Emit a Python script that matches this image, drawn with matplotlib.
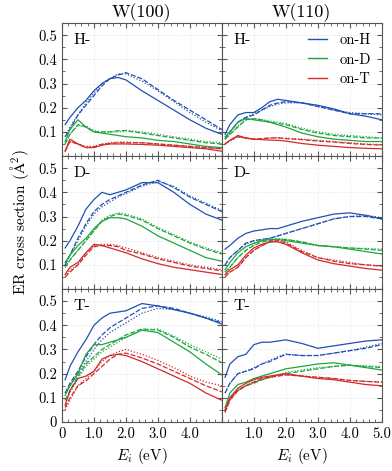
import matplotlib
matplotlib.use("Agg")
import matplotlib.pyplot as plt
from matplotlib.ticker import MultipleLocator

plt.rcParams["font.family"] = ["cmr10", "DejaVu Serif"]
plt.rcParams["mathtext.fontset"] = "cm"
plt.rcParams["axes.formatter.use_mathtext"] = True

# ---------- data -------------------------------------------------------------
energy = [0.1, 0.25, 0.5, 0.75, 1.0, 1.25, 1.5, 1.75, 2.0, 2.5, 3.0, 3.5, 4.0, 4.5, 5.0]

surfaces = ["W(100)", "W(110)"]
projectiles = ["H-", "D-", "T-"]
targets = ["on-H", "on-D", "on-T"]

# W(100), H projectile
w100_h_onH_solid = [0.13, 0.16, 0.20, 0.23, 0.27, 0.30, 0.32, 0.325, 0.315, 0.27, 0.23, 0.19, 0.15, 0.115, 0.09]
w100_h_onH_dash = [0.08, 0.11, 0.17, 0.21, 0.25, 0.29, 0.32, 0.335, 0.345, 0.32, 0.275, 0.23, 0.19, 0.15, 0.11]
w100_h_onH_dot = [0.08, 0.12, 0.17, 0.22, 0.26, 0.30, 0.32, 0.34, 0.34, 0.31, 0.27, 0.225, 0.18, 0.14, 0.105]
w100_h_onD_solid = [0.06, 0.11, 0.15, 0.12, 0.10, 0.095, 0.09, 0.085, 0.08, 0.075, 0.065, 0.06, 0.05, 0.04, 0.035]
w100_h_onD_dash = [0.05, 0.09, 0.13, 0.12, 0.10, 0.10, 0.10, 0.105, 0.105, 0.095, 0.085, 0.075, 0.065, 0.055, 0.05]
w100_h_onD_dot = [0.05, 0.09, 0.125, 0.125, 0.105, 0.10, 0.10, 0.10, 0.105, 0.10, 0.09, 0.08, 0.07, 0.06, 0.055]
w100_h_onT_solid = [0.02, 0.07, 0.05, 0.035, 0.035, 0.045, 0.05, 0.05, 0.05, 0.048, 0.045, 0.04, 0.035, 0.03, 0.02]
w100_h_onT_dash = [0.02, 0.06, 0.05, 0.035, 0.038, 0.048, 0.052, 0.055, 0.055, 0.055, 0.05, 0.045, 0.04, 0.035, 0.03]
w100_h_onT_dot = [0.02, 0.06, 0.05, 0.04, 0.04, 0.05, 0.055, 0.058, 0.058, 0.055, 0.05, 0.045, 0.04, 0.035, 0.03]

# W(110), H projectile
w110_h_onH_solid = [0.09, 0.13, 0.17, 0.18, 0.18, 0.20, 0.225, 0.235, 0.23, 0.22, 0.21, 0.195, 0.175, 0.165, 0.15]
w110_h_onH_dash = [0.07, 0.10, 0.14, 0.16, 0.17, 0.19, 0.21, 0.22, 0.225, 0.22, 0.205, 0.19, 0.175, 0.175, 0.175]
w110_h_onH_dot = [0.07, 0.10, 0.14, 0.16, 0.175, 0.19, 0.205, 0.215, 0.22, 0.22, 0.205, 0.19, 0.18, 0.175, 0.17]
w110_h_onD_solid = [0.08, 0.10, 0.14, 0.155, 0.15, 0.145, 0.14, 0.13, 0.12, 0.095, 0.08, 0.07, 0.065, 0.06, 0.06]
w110_h_onD_dash = [0.07, 0.09, 0.12, 0.15, 0.155, 0.15, 0.14, 0.135, 0.13, 0.11, 0.095, 0.085, 0.08, 0.075, 0.075]
w110_h_onD_dot = [0.07, 0.09, 0.125, 0.15, 0.155, 0.15, 0.145, 0.14, 0.135, 0.115, 0.10, 0.09, 0.085, 0.08, 0.075]
w110_h_onT_solid = [0.05, 0.065, 0.085, 0.075, 0.07, 0.068, 0.066, 0.065, 0.062, 0.052, 0.045, 0.04, 0.035, 0.032, 0.03]
w110_h_onT_dash = [0.05, 0.065, 0.08, 0.075, 0.07, 0.072, 0.075, 0.075, 0.072, 0.068, 0.062, 0.058, 0.052, 0.048, 0.045]
w110_h_onT_dot = [0.05, 0.062, 0.08, 0.072, 0.07, 0.072, 0.074, 0.076, 0.074, 0.07, 0.065, 0.06, 0.055, 0.05, 0.047]

# W(100), D projectile
w100_d_onH_solid = [0.17, 0.20, 0.26, 0.33, 0.37, 0.40, 0.39, 0.40, 0.41, 0.44, 0.44, 0.40, 0.35, 0.31, 0.285]
w100_d_onH_dash = [0.10, 0.14, 0.21, 0.27, 0.32, 0.35, 0.37, 0.385, 0.40, 0.43, 0.45, 0.42, 0.38, 0.35, 0.32]
w100_d_onH_dot = [0.10, 0.14, 0.20, 0.26, 0.31, 0.34, 0.36, 0.38, 0.395, 0.425, 0.445, 0.425, 0.385, 0.355, 0.325]
w100_d_onD_solid = [0.11, 0.14, 0.18, 0.21, 0.25, 0.28, 0.295, 0.295, 0.29, 0.26, 0.22, 0.19, 0.16, 0.13, 0.115]
w100_d_onD_dash = [0.09, 0.12, 0.16, 0.20, 0.24, 0.28, 0.30, 0.31, 0.305, 0.285, 0.25, 0.22, 0.19, 0.165, 0.145]
w100_d_onD_dot = [0.09, 0.12, 0.16, 0.20, 0.245, 0.285, 0.305, 0.315, 0.31, 0.29, 0.255, 0.225, 0.195, 0.17, 0.15]
w100_d_onT_solid = [0.06, 0.09, 0.11, 0.15, 0.185, 0.18, 0.17, 0.16, 0.15, 0.125, 0.105, 0.09, 0.08, 0.07, 0.06]
w100_d_onT_dash = [0.05, 0.07, 0.10, 0.14, 0.175, 0.18, 0.18, 0.175, 0.16, 0.145, 0.125, 0.11, 0.095, 0.085, 0.075]
w100_d_onT_dot = [0.05, 0.08, 0.10, 0.15, 0.18, 0.185, 0.185, 0.18, 0.17, 0.15, 0.13, 0.115, 0.10, 0.09, 0.08]

# W(110), D projectile
w110_d_onH_solid = [0.165, 0.18, 0.21, 0.23, 0.24, 0.245, 0.25, 0.25, 0.26, 0.28, 0.295, 0.31, 0.315, 0.305, 0.29]
w110_d_onH_dash = [0.10, 0.13, 0.16, 0.19, 0.20, 0.205, 0.21, 0.22, 0.23, 0.25, 0.27, 0.29, 0.30, 0.30, 0.29]
w110_d_onH_dot = [0.10, 0.13, 0.16, 0.185, 0.20, 0.205, 0.21, 0.22, 0.23, 0.25, 0.27, 0.29, 0.30, 0.305, 0.295]
w110_d_onD_solid = [0.08, 0.11, 0.15, 0.175, 0.19, 0.20, 0.205, 0.205, 0.20, 0.19, 0.18, 0.175, 0.165, 0.155, 0.145]
w110_d_onD_dash = [0.07, 0.09, 0.13, 0.16, 0.18, 0.195, 0.20, 0.205, 0.205, 0.195, 0.18, 0.175, 0.17, 0.165, 0.16]
w110_d_onD_dot = [0.07, 0.09, 0.13, 0.16, 0.185, 0.20, 0.205, 0.21, 0.205, 0.195, 0.18, 0.175, 0.17, 0.168, 0.165]
w110_d_onT_solid = [0.06, 0.08, 0.10, 0.14, 0.17, 0.185, 0.195, 0.195, 0.185, 0.15, 0.12, 0.105, 0.095, 0.085, 0.078]
w110_d_onT_dash = [0.05, 0.07, 0.09, 0.13, 0.16, 0.18, 0.195, 0.20, 0.19, 0.155, 0.13, 0.115, 0.105, 0.10, 0.095]
w110_d_onT_dot = [0.05, 0.07, 0.09, 0.13, 0.16, 0.18, 0.195, 0.20, 0.195, 0.16, 0.13, 0.12, 0.11, 0.10, 0.095]

# W(100), T projectile
w100_t_onH_solid = [0.175, 0.23, 0.29, 0.34, 0.40, 0.43, 0.45, 0.455, 0.46, 0.49, 0.48, 0.465, 0.45, 0.43, 0.405]
w100_t_onH_dash = [0.12, 0.16, 0.21, 0.27, 0.32, 0.36, 0.39, 0.41, 0.43, 0.47, 0.48, 0.47, 0.45, 0.43, 0.41]
w100_t_onH_dot = [0.12, 0.15, 0.20, 0.25, 0.30, 0.34, 0.37, 0.39, 0.41, 0.45, 0.47, 0.465, 0.45, 0.435, 0.415]
w100_t_onD_solid = [0.11, 0.15, 0.20, 0.28, 0.32, 0.32, 0.33, 0.34, 0.35, 0.38, 0.37, 0.33, 0.29, 0.24, 0.195]
w100_t_onD_dash = [0.09, 0.13, 0.19, 0.24, 0.27, 0.30, 0.32, 0.34, 0.36, 0.385, 0.38, 0.35, 0.31, 0.28, 0.245]
w100_t_onD_dot = [0.09, 0.12, 0.18, 0.23, 0.26, 0.29, 0.31, 0.33, 0.35, 0.38, 0.385, 0.355, 0.32, 0.29, 0.26]
w100_t_onT_solid = [0.07, 0.13, 0.18, 0.19, 0.21, 0.26, 0.275, 0.28, 0.275, 0.25, 0.22, 0.19, 0.16, 0.12, 0.09]
w100_t_onT_dash = [0.06, 0.10, 0.15, 0.17, 0.20, 0.23, 0.26, 0.28, 0.285, 0.265, 0.24, 0.21, 0.18, 0.15, 0.125]
w100_t_onT_dot = [0.05, 0.09, 0.15, 0.18, 0.21, 0.25, 0.275, 0.29, 0.30, 0.28, 0.255, 0.225, 0.19, 0.165, 0.15]

# W(110), T projectile
w110_t_onH_solid = [0.185, 0.24, 0.27, 0.28, 0.32, 0.33, 0.33, 0.335, 0.34, 0.325, 0.305, 0.315, 0.325, 0.335, 0.34]
w110_t_onH_dash = [0.12, 0.16, 0.20, 0.21, 0.22, 0.24, 0.25, 0.265, 0.28, 0.275, 0.275, 0.285, 0.295, 0.305, 0.32]
w110_t_onH_dot = [0.12, 0.16, 0.20, 0.21, 0.225, 0.24, 0.255, 0.27, 0.28, 0.275, 0.275, 0.285, 0.295, 0.31, 0.325]
w110_t_onD_solid = [0.06, 0.12, 0.155, 0.165, 0.18, 0.19, 0.20, 0.21, 0.22, 0.23, 0.24, 0.245, 0.235, 0.225, 0.215]
w110_t_onD_dash = [0.05, 0.10, 0.13, 0.15, 0.16, 0.175, 0.185, 0.195, 0.20, 0.21, 0.22, 0.23, 0.235, 0.23, 0.225]
w110_t_onD_dot = [0.05, 0.10, 0.135, 0.15, 0.165, 0.175, 0.185, 0.195, 0.205, 0.215, 0.225, 0.23, 0.235, 0.232, 0.23]
w110_t_onT_solid = [0.05, 0.10, 0.14, 0.16, 0.175, 0.185, 0.19, 0.195, 0.20, 0.19, 0.18, 0.175, 0.165, 0.155, 0.15]
w110_t_onT_dash = [0.04, 0.09, 0.13, 0.15, 0.165, 0.18, 0.185, 0.19, 0.195, 0.19, 0.185, 0.18, 0.172, 0.168, 0.165]
w110_t_onT_dot = [0.04, 0.09, 0.13, 0.15, 0.165, 0.175, 0.185, 0.19, 0.195, 0.19, 0.185, 0.18, 0.172, 0.168, 0.165]

panels = {
    (0, 0): [(w100_h_onH_solid, w100_h_onH_dash, w100_h_onH_dot),
             (w100_h_onD_solid, w100_h_onD_dash, w100_h_onD_dot),
             (w100_h_onT_solid, w100_h_onT_dash, w100_h_onT_dot)],
    (0, 1): [(w110_h_onH_solid, w110_h_onH_dash, w110_h_onH_dot),
             (w110_h_onD_solid, w110_h_onD_dash, w110_h_onD_dot),
             (w110_h_onT_solid, w110_h_onT_dash, w110_h_onT_dot)],
    (1, 0): [(w100_d_onH_solid, w100_d_onH_dash, w100_d_onH_dot),
             (w100_d_onD_solid, w100_d_onD_dash, w100_d_onD_dot),
             (w100_d_onT_solid, w100_d_onT_dash, w100_d_onT_dot)],
    (1, 1): [(w110_d_onH_solid, w110_d_onH_dash, w110_d_onH_dot),
             (w110_d_onD_solid, w110_d_onD_dash, w110_d_onD_dot),
             (w110_d_onT_solid, w110_d_onT_dash, w110_d_onT_dot)],
    (2, 0): [(w100_t_onH_solid, w100_t_onH_dash, w100_t_onH_dot),
             (w100_t_onD_solid, w100_t_onD_dash, w100_t_onD_dot),
             (w100_t_onT_solid, w100_t_onT_dash, w100_t_onT_dot)],
    (2, 1): [(w110_t_onH_solid, w110_t_onH_dash, w110_t_onH_dot),
             (w110_t_onD_solid, w110_t_onD_dash, w110_t_onD_dot),
             (w110_t_onT_solid, w110_t_onT_dash, w110_t_onT_dot)],
}

colors = ["#2050b4", "#1fa63f", "#d02a2a"]
styles = ["-", (0, (4, 1.5)), (0, (1, 1.5))]

# ---------- figure -----------------------------------------------------------
fig, axes = plt.subplots(3, 2, figsize=(3.92, 4.71), dpi=100)
fig.subplots_adjust(left=0.158, right=0.974, top=0.951, bottom=0.104,
                    hspace=0, wspace=0)

for (r, c), series in panels.items():
    ax = axes[r, c]
    for color, (s_solid, s_dash, s_dot) in zip(colors, series):
        for vals, ls in zip((s_solid, s_dash, s_dot), styles):
            ax.plot(energy, vals, color=color, ls=ls, lw=0.9)
    ax.set_xlim(0, 5)
    ax.set_ylim(0, 0.55)
    ax.grid(True, color="#dddddd", ls=":", lw=0.6)
    ax.xaxis.set_minor_locator(MultipleLocator(0.2))
    ax.yaxis.set_minor_locator(MultipleLocator(0.05))
    ax.tick_params(which="both", direction="in", top=True, right=True,
                   labelsize=10.5, color="#555555")
    ax.tick_params(which="major", length=3.5)
    ax.tick_params(which="minor", length=2)
    for sp in ax.spines.values():
        sp.set_color("#555555")
        sp.set_linewidth(0.8)

    ax.set_xticks([0, 1, 2, 3, 4, 5])
    if r == 2:
        if c == 0:
            ax.set_xticklabels(["0", "1.0", "2.0", "3.0", "4.0", ""])
        else:
            ax.set_xticklabels(["", "1.0", "2.0", "3.0", "4.0", "5.0"])
        ax.set_xlabel(r"$E_i$ (eV)", fontsize=11, labelpad=4)
    else:
        ax.set_xticklabels([])

    ax.set_yticks([0, 0.1, 0.2, 0.3, 0.4, 0.5])
    if c == 0:
        first = "0" if r == 2 else ""
        ax.set_yticklabels([first, "0.1", "0.2", "0.3", "0.4", "0.5"])
    else:
        ax.set_yticklabels([])

    ax.text(0.07, 0.87, projectiles[r], transform=ax.transAxes, fontsize=11.5,
            va="center", ha="left")

for c in range(2):
    axes[0, c].set_title(surfaces[c], fontsize=13, pad=4)

axes[1, 0].set_ylabel(r"ER cross section ($\mathrm{\AA}^2$)", fontsize=11,
                      labelpad=5)

handles = [plt.Line2D([], [], color=col, lw=1.0) for col in colors]
axes[0, 1].legend(handles, targets, loc="upper right", frameon=False,
                  fontsize=10.5, handlelength=1.3, borderaxespad=0.3,
                  labelspacing=0.4, handletextpad=0.9)

fig.savefig("out.png", dpi=100)
